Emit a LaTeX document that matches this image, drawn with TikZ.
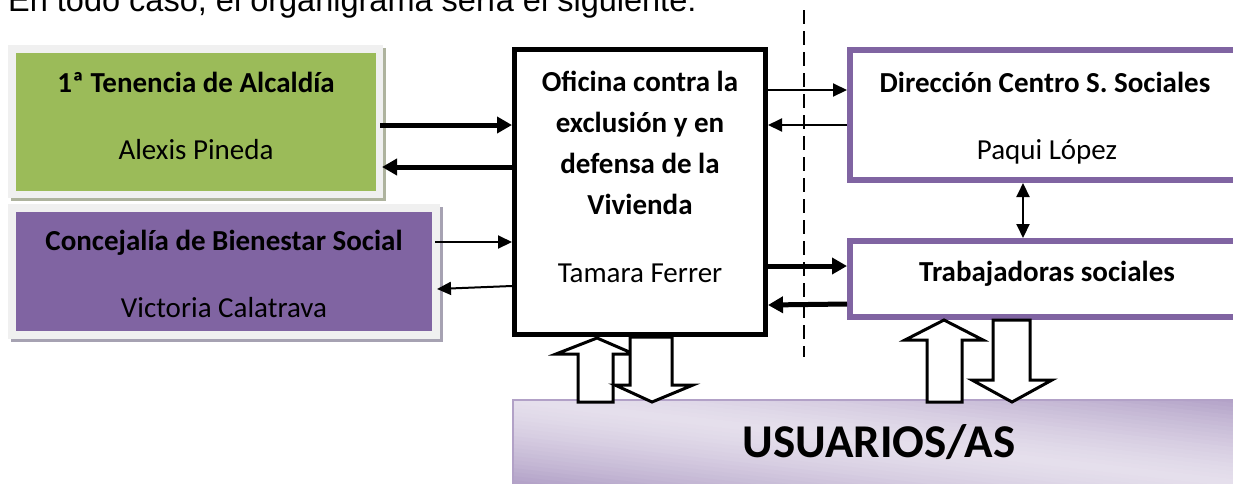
\documentclass[tikz,border=0pt]{standalone}
\usepackage{fontspec}
\setmainfont{Carlito}
\newfontfamily\arialfont{Liberation Sans}
\usetikzlibrary{arrows.meta}
\definecolor{greenfill}{HTML}{9BBB59}
\definecolor{purplefill}{HTML}{8064A2}
\definecolor{framegray}{HTML}{F0F0F0}
\definecolor{greenshadow}{HTML}{AEB39E}
\definecolor{purpleshadow}{HTML}{A6A2B2}
\definecolor{lavlight}{HTML}{E5DFEC}
\definecolor{lavdark}{HTML}{B2A1C7}
\tikzset{
  txt/.style={inner sep=0pt, text height=18.5pt, text depth=0pt, font=\fontsize{29}{41}\selectfont},
  btxt/.style={txt, font=\fontsize{29}{41}\selectfont\bfseries},
  thickarr/.style={line width=5pt, -{Triangle[length=15pt,width=16pt]}},
  thinarr/.style={line width=2pt, -{Triangle[length=14pt,width=13pt]}},
  blockarr/.style={draw=black, fill=white, line width=3pt, line join=miter},
  purplebox/.style={draw=purplefill, fill=white, line width=6pt},
}
\begin{document}
\begin{tikzpicture}[x=1pt,y=-1pt]
\useasboundingbox (0,0) rectangle (1233,483);
% top text
\node[anchor=base west, inner sep=0pt, font=\arialfont\fontsize{32.5}{37}\selectfont] (intro) at (8,11.5) {En todo caso, el organigrama sería el siguiente:};
% green box
\fill[greenshadow] (11,48) rectangle (386,201);
\fill[framegray] (8,45) rectangle (383,198);
\fill[greenfill] (16,53) rectangle (376,191);
\node[btxt] (gt1) at (196,83) {1ª Tenencia de Alcaldía};
\node[txt] (gt2) at (196,150) {Alexis Pineda};
% purple box
\fill[purpleshadow] (11,207) rectangle (443,342);
\fill[framegray] (8,204) rectangle (440,339);
\fill[purplefill] (16,212) rectangle (432,331);
\node[btxt] (pt1) at (224,241) {Concejalía de Bienestar Social};
\node[txt] (pt2) at (224,308) {Victoria Calatrava};
% central box
\draw[line width=5pt] (514.5,49.5) rectangle (765.5,334.5);
\node[inner sep=0pt, align=center, font=\fontsize{29}{41}\selectfont\bfseries] (ct1) at (640,143) {Oficina contra la\\exclusión y en\\defensa de la\\Vivienda};
\node[txt] (ct2) at (640,273) {Tamara Ferrer};
% dashed divider
\draw[line width=2.5pt, dash pattern=on 14pt off 7pt] (804,10) -- (804,357);
% right boxes
\draw[purplebox] (1245,50) -- (850,50) -- (850,180) -- (1245,180);
\node[btxt] (dt1) at (1045,83) {Dirección Centro S. Sociales};
\node[txt] (dt2) at (1047,150) {Paqui López};
\draw[purplebox] (1245,241) -- (850,241) -- (850,317) -- (1245,317);
\node[btxt] (tt1) at (1047,272) {Trabajadoras sociales};
% connectors left
\draw[thickarr] (380,125) -- (512,125);
\draw[thickarr] (512,167) -- (382,167);
\draw[thinarr] (435,242) -- (512,242);
\draw[thinarr] (512,286) -- (437,289);
% connectors right
\draw[thinarr] (768,90) -- (847,90);
\draw[thinarr] (847,125) -- (768,125);
\draw[thickarr] (768,266) -- (847,266);
\draw[thickarr] (847,304) -- (768,305);
\draw[line width=2pt, {Triangle[length=14pt,width=13pt]}-{Triangle[length=14pt,width=13pt]}] (1023,183) -- (1023,238);
% usuarios box: diagonal gradient built from slanted strips
\begin{scope}
  \clip (513,400) rectangle (1240,490);
  \foreach \i in {0,...,41}{
    \pgfmathsetmacro\da{-84+4*\i}
    \pgfmathsetmacro\db{\da+4.6}
    \pgfmathsetmacro\p{max(0,min(100,100*(1-(abs(\da+2)/84)^1.4)))}
    \fill[lavlight!\p!lavdark] (513,400+\da) -- (1240,483.8+\da) -- (1240,483.8+\db) -- (513,400+\db) -- cycle;
  }
\end{scope}
\draw[lavdark, line width=1.5pt] (513,490) -- (513,400) -- (1240,400);
\node[inner sep=0pt, text height=29pt, text depth=0pt, font=\fontsize{47}{50}\selectfont\bfseries] (us) at (879,442.5) {USUARIOS/AS};
% block arrows
\draw[blockarr] (597,338) -- (634,354) -- (613,354) -- (613,402) -- (578,402) -- (578,354) -- (556,354) -- cycle;
\draw[blockarr] (630,337) -- (672,337) -- (672,385) -- (693,385) -- (652,402) -- (615,385) -- (630,385) -- cycle;
\draw[blockarr] (944,320) -- (983,340) -- (962,340) -- (962,402) -- (927,402) -- (927,340) -- (905,340) -- cycle;
\draw[blockarr] (993,320) -- (1030,320) -- (1030,380) -- (1052,380) -- (1012,402) -- (972,380) -- (993,380) -- cycle;
\end{tikzpicture}
\end{document}
